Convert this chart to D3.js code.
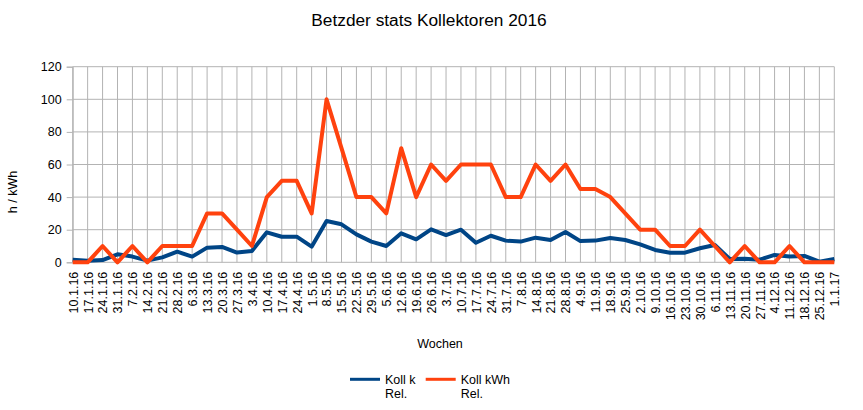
<!DOCTYPE html>
<html><head><meta charset="utf-8">
<script src="https://cdn.jsdelivr.net/npm/d3@7"></script>
<style>
body{margin:0;background:#fff;}
text{font-family:"Liberation Sans",Arial,sans-serif;fill:#000;}
</style></head>
<body><svg id="chart" width="863" height="410"></svg>
<script>
const categories = ["10.1.16","17.1.16","24.1.16","31.1.16","7.2.16","14.2.16","21.2.16","28.2.16","6.3.16","13.3.16","20.3.16","27.3.16","3.4.16","10.4.16","17.4.16","24.4.16","1.5.16","8.5.16","15.5.16","22.5.16","29.5.16","5.6.16","12.6.16","19.6.16","26.6.16","3.7.16","10.7.16","17.7.16","24.7.16","31.7.16","7.8.16","14.8.16","21.8.16","28.8.16","4.9.16","11.9.16","18.9.16","25.9.16","2.10.16","9.10.16","16.10.16","23.10.16","30.10.16","6.11.16","13.11.16","20.11.16","27.11.16","4.12.16","11.12.16","18.12.16","25.12.16","1.1.17"];
const kollK = [1.6,1,1.4,4.9,3.5,1,3,6.5,3.5,9,9.4,6,7,18.4,15.7,15.7,9.6,25.3,23.3,17.1,12.7,10,17.8,14.1,20.2,16.7,20,12,16.3,13.3,12.7,15.1,13.7,18.6,13,13.3,14.9,13.7,11,7.6,5.9,5.9,8.6,10.6,2,2.2,1.6,4.5,3.5,3.9,0.4,2];
const kollKWh = [0,0,10,0,10,0,10,10,10,30,30,20,10,40,50,50,30,100,70,40,40,30,70,40,60,50,60,60,60,40,40,60,50,60,45,45,40,30,20,20,10,10,20,10,0,10,0,0,10,0,0,0];
const yTicks = [0,20,40,60,80,100,120];
const seriesNames = [["Koll k","Rel."],["Koll kWh","Rel."]];
const colors = ["#004586","#ff420e"];
const title = "Betzder stats Kollektoren 2016";
const xTitle = "Wochen";
const yTitle = "h / kWh";

const svg = d3.select("#chart");
const x = d3.scalePoint().domain(categories).range([72.7, 834.3]);
const y = d3.scaleLinear().domain([0,120]).range([262.3, 66.7]);

// horizontal grid + y axis
const yAxis = d3.axisLeft(y).tickValues(yTicks).tickSize(6).tickPadding(5);
const gy = svg.append("g").attr("transform","translate(72.7,0)").call(yAxis);
gy.select(".domain").attr("stroke","#b3b3b3");
gy.selectAll(".tick line").attr("stroke","#b3b3b3");
gy.selectAll(".tick text").style("font-size","12.5px").attr("font-family",null);
svg.insert("g","g").selectAll("line").data(yTicks).join("line")
  .attr("x1",72.7).attr("x2",834.3).attr("y1",d=>y(d)).attr("y2",d=>y(d))
  .attr("stroke","#b3b3b3").attr("stroke-width",1);
// vertical grid
svg.insert("g","g").selectAll("line").data(categories).join("line")
  .attr("x1",d=>x(d)).attr("x2",d=>x(d)).attr("y1",y(120)).attr("y2",y(0))
  .attr("stroke","#b3b3b3").attr("stroke-width",1);

// x axis labels
const xAxis = d3.axisBottom(x).tickSize(0).tickPadding(0);
const gx = svg.append("g").attr("transform","translate(0,"+y(0)+")").call(xAxis);
gx.select(".domain").remove();
gx.selectAll(".tick text").attr("font-family",null).style("font-size","12.5px")
  .attr("text-anchor","end").attr("transform","rotate(-90)")
  .attr("x",-9.4).attr("y",0).attr("dy","0.35em");

// lines
const line = d3.line().x((d,i)=>x(categories[i])).y(d=>y(d));
[kollK,kollKWh].forEach((s,k)=>{
  svg.append("path").datum(s).attr("d",line).attr("fill","none")
    .attr("stroke",colors[k]).attr("stroke-width",4).attr("stroke-linejoin","round");
});

// titles
svg.append("text").attr("x",429).attr("y",26).attr("text-anchor","middle").style("font-size","17.3px").text(title);
svg.append("text").attr("x",440).attr("y",347.5).attr("text-anchor","middle").style("font-size","12.5px").text(xTitle);
svg.append("text").attr("transform","translate(17,192) rotate(-90)").attr("text-anchor","middle").style("font-size","12.5px").text(yTitle);

// legend
const legX = [350, 425.7];
seriesNames.forEach((nm,k)=>{
  const g = svg.append("g");
  g.append("line").attr("x1",legX[k]).attr("x2",legX[k]+30).attr("y1",379.3).attr("y2",379.3)
    .attr("stroke",colors[k]).attr("stroke-width",3);
  const t = g.append("text").attr("x",legX[k]+35).attr("y",384).style("font-size","12.5px");
  t.append("tspan").attr("x",legX[k]+35).text(nm[0]);
  t.append("tspan").attr("x",legX[k]+35).attr("dy",14.3).text(nm[1]);
});
</script></body></html>
